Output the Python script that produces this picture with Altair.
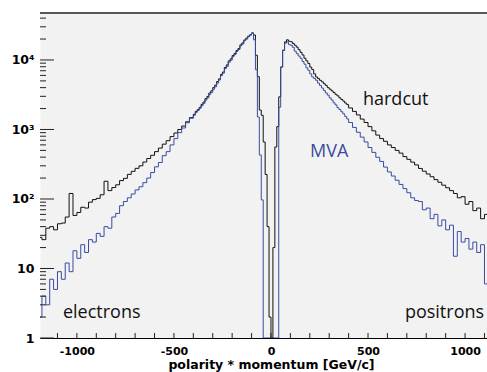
import altair as alt
import pandas as pd

# ---- bin definitions (lower edges, GeV/c) ----
edges_a = list(range(-1200, -400, 20))
edges_b = list(range(-400, -100, 10))
edges_c = list(range(-100, 100, 10))
edges_d = list(range(100, 400, 10))
edges_e = list(range(400, 1120, 20))
last_edge = 1120

# ---- hardcut (black) counts ----
hardcut_a = [28, 26, 38, 40, 36, 44, 45, 55, 120, 58,
             64, 76, 74, 90, 98, 102, 115, 180, 132, 146,
             160, 184, 198, 226, 250, 276, 300, 340, 382, 425,
             480, 540, 615, 690, 790, 890, 1000, 1120, 1290, 1480]
hardcut_b = [1650, 1820, 1930, 2080, 2300, 2480, 2780, 2990, 3350, 3600,
             4000, 4350, 4900, 5350, 6200, 6700, 7800, 8500, 9700, 10400,
             11600, 12400, 13700, 14600, 16500, 17600, 19400, 20600, 22000, 23000]
hardcut_c = [24500, 22900, 11700, 5750, 1900, 1600, 660, 225, 40, 2,
             0, 20, 560, 1100, 2950, 7900, 13800, 18200, 19500, 18600]
hardcut_d = [18300, 17300, 16300, 15300, 14100, 12900, 11800, 10600, 9700, 8900,
             7900, 7300, 6300, 5700, 5400, 5100, 4850, 4550, 4300, 4000,
             3800, 3600, 3400, 3200, 3050, 2850, 2700, 2560, 2400, 2280]
hardcut_e = [2040, 1820, 1620, 1410, 1260, 1100, 955, 830, 740, 676,
             600, 550, 500, 457, 407, 372, 339, 309, 275, 251,
             229, 209, 190, 174, 158, 145, 132, 120, 104, 108,
             84, 92, 68, 74, 52, 60]

# ---- MVA (blue) counts ----
mva_a = [2, 4, 3, 7, 5, 9, 7, 12, 9, 18,
         14, 22, 17, 26, 24, 32, 29, 40, 38, 55,
         62, 80, 92, 104, 118, 135, 150, 172, 200, 240,
         290, 335, 420, 480, 600, 740, 900, 1050, 1250, 1450]
mva_b = [1600, 1760, 1880, 2020, 2200, 2380, 2650, 2850, 3200, 3420,
         3800, 4120, 4650, 5150, 5950, 6450, 7500, 8100, 9300, 9900,
         11200, 12000, 13300, 14100, 16000, 17000, 19000, 20000, 21600, 22800]
mva_c = [24500, 19500, 7240, 1510, 430, 97, 0, 0, 0, 0,
         0, 0, 0, 0, 2090, 7940, 13800, 17400, 18200, 16600]
mva_d = [16300, 15200, 13400, 12400, 11400, 10600, 9500, 8700, 7700, 7100,
         6300, 5700, 5400, 5100, 4650, 4300, 3950, 3650, 3350, 3120,
         2850, 2650, 2420, 2260, 2060, 1940, 1800, 1680, 1540, 1420]
mva_e = [1260, 1070, 912, 776, 661, 550, 468, 398, 347, 288,
         245, 214, 186, 162, 141, 123, 104, 95, 92, 70,
         74, 52, 60, 41, 50, 36, 42, 15, 34, 24,
         27, 19, 24, 17, 22, 6]

x_tick_labels = [-1000, -500, 0, 500, 1000]
y_tick_values = [1, 10, 100, 1000, 10000]
y_tick_labels = ["1", "10", "10²", "10³", "10⁴"]

annotations = ["hardcut", "MVA", "electrons", "positrons"]
annot_x = [474, 201, -1072, 690]
annot_y = [2240, 400, 1.94, 1.94]
annot_color = ["#111111", "#3a4ca0", "#111111", "#111111"]

BLACK = "#111111"
BLUE = "#3a4ca0"

edges = edges_a + edges_b + edges_c + edges_d + edges_e


def hist_frame(counts):
    xs = edges + [last_edge]
    ys = counts + [counts[-1]]
    return pd.DataFrame({"x": xs, "count": ys})


df_hard = hist_frame(hardcut_a + hardcut_b + hardcut_c + hardcut_d + hardcut_e)
df_mva = hist_frame(mva_a + mva_b + mva_c + mva_d + mva_e)

xscale = alt.Scale(domain=[-1190, 1113], nice=False, zero=False)
yscale = alt.Scale(type="log", domain=[1, 47400], nice=False, clamp=True)

label_expr = " : ".join(
    f"datum.value == {v} ? '{t}'" for v, t in zip(y_tick_values[::-1], y_tick_labels[::-1])
) + " : ''"

x_axis = alt.Axis(
    values=x_tick_labels, labelExpr="'' + datum.value", tickSize=0, grid=False,
    domain=True, domainColor="black", domainWidth=1,
    labelFont="DejaVu Sans", labelFontWeight="bold", labelFontSize=11,
    labelColor="black", labelPadding=7,
    title="polarity * momentum [GeV/c]", titleFont="DejaVu Sans",
    titleFontWeight="bold", titleFontSize=12.5, titleColor="black",
    titleX=231, titleY=30, titleBaseline="alphabetic", titleAnchor="middle",
)
y_axis = alt.Axis(
    values=y_tick_values, labelExpr=label_expr, tickSize=0, grid=False,
    domain=False, labelFont="DejaVu Sans", labelFontWeight="bold",
    labelFontSize=12.5, labelColor="black", labelPadding=6, title=None,
)


def hist_layer(df, color):
    return alt.Chart(df).transform_calculate(
        y="max(datum.count, 0.5)"
    ).mark_line(
        interpolate="step-after", strokeWidth=1, color=color, clip=True
    ).encode(
        x=alt.X("x:Q", scale=xscale, axis=x_axis),
        y=alt.Y("y:Q", scale=yscale, axis=y_axis),
    )


black = hist_layer(df_hard, BLACK)
blue = hist_layer(df_mva, BLUE)

# tick marks drawn inside the frame, ROOT style
y_major = pd.DataFrame({"y": y_tick_values})
y_minor = pd.DataFrame({"y": [m * 10 ** k for k in range(0, 5) for m in range(2, 10) if m * 10 ** k < 47400]})
x_ticks = pd.DataFrame({"x": list(range(-1100, 1101, 100))})

ymaj = alt.Chart(y_major).mark_rule(color="#222222", strokeWidth=1).encode(
    y=alt.Y("y:Q", scale=yscale), x=alt.value(0), x2=alt.value(14)
)
ymin = alt.Chart(y_minor).mark_rule(color="#222222", strokeWidth=1).encode(
    y=alt.Y("y:Q", scale=yscale), x=alt.value(0), x2=alt.value(6)
)
xt = alt.Chart(x_ticks).mark_rule(color="#222222", strokeWidth=1).encode(
    x=alt.X("x:Q", scale=xscale), y=alt.value(325), y2=alt.value(320)
)
top = alt.Chart(pd.DataFrame({"k": [0]})).mark_rule(color="#222222", strokeWidth=1.3).encode(
    y=alt.value(0), x=alt.value(0), x2=alt.value(447)
)

annot_df = pd.DataFrame({"label": annotations, "x": annot_x, "y": annot_y, "c": annot_color})
texts = alt.Chart(annot_df).mark_text(
    align="left", baseline="alphabetic", font="Open Sans", fontSize=18
).encode(
    x=alt.X("x:Q", scale=xscale),
    y=alt.Y("y:Q", scale=yscale),
    text="label:N",
    color=alt.Color("c:N", scale=None),
)

chart = alt.layer(black, blue, ymaj, ymin, xt, top, texts).properties(
    width=447, height=325,
    padding={"left": 40, "top": 13, "right": 0, "bottom": 34},
    autosize=alt.AutoSizeParams(type="none"),
    background="white",
).configure_view(fill="#f2f2f2", stroke="transparent")

chart.save("out.html", embed_options={"renderer": "svg", "actions": False})
